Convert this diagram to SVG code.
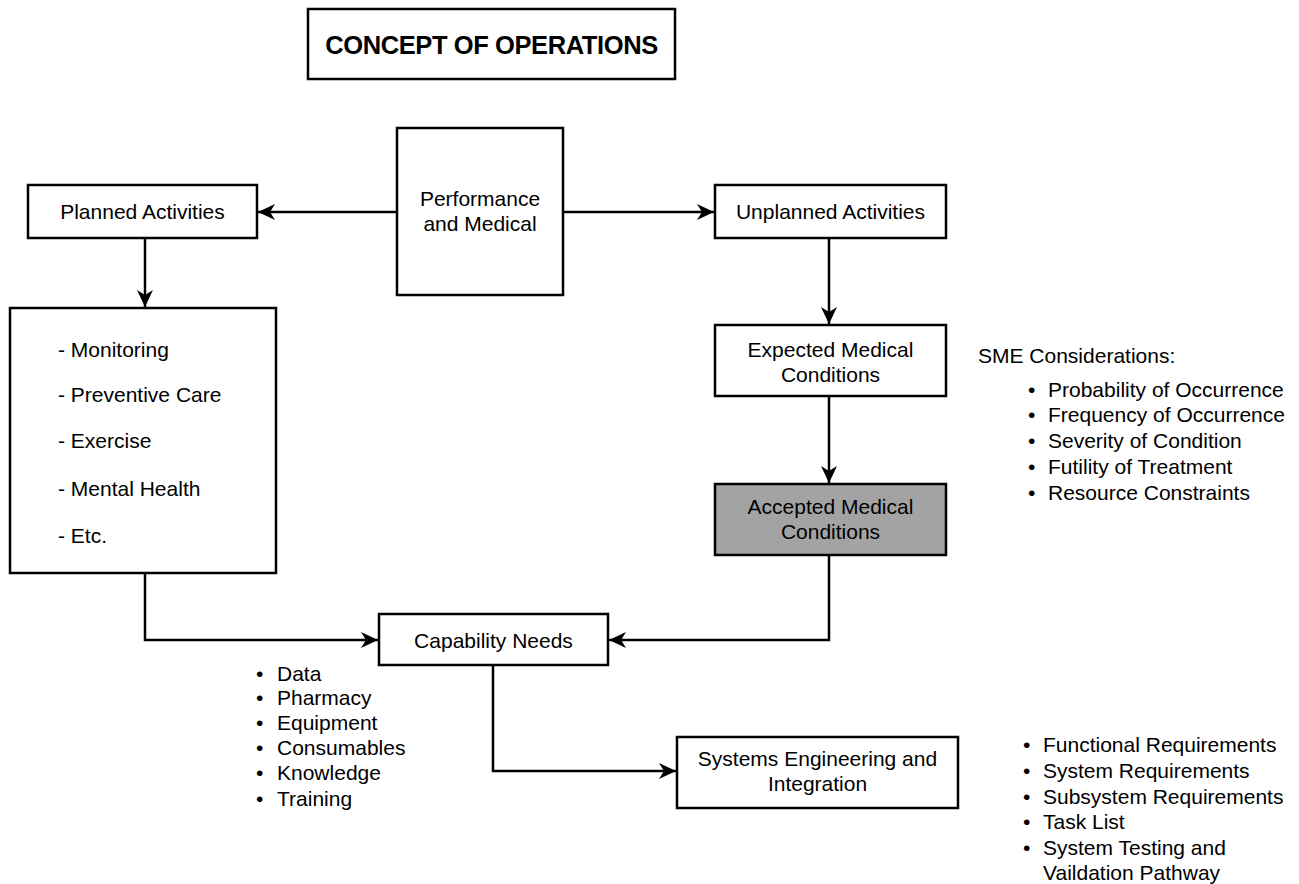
<svg xmlns="http://www.w3.org/2000/svg" width="1299" height="884" viewBox="0 0 1299 884">
<style>
.box{fill:#fff;stroke:#000;stroke-width:2.5}
.gray{fill:#a3a3a3}
.t{font-family:"Liberation Sans",Arial,sans-serif;font-size:21px;fill:#000}
.c{text-anchor:middle}
.title{font-family:"Liberation Sans",Arial,sans-serif;font-size:25.5px;font-weight:bold;letter-spacing:-0.4px;text-anchor:middle}
.ln{fill:none;stroke:#000;stroke-width:2.5}
</style>
<defs>
<marker id="ah" markerUnits="userSpaceOnUse" markerWidth="20" markerHeight="20" refX="17" refY="9" orient="auto">
<path d="M0,1 L17,9 L0,17 L5,9 Z" fill="#000"/>
</marker>
</defs>
<rect width="1299" height="884" fill="#fff"/>

<g id="connectors">
<line class="ln" x1="397" y1="212" x2="258" y2="212" marker-end="url(#ah)"/>
<line class="ln" x1="563" y1="212" x2="714" y2="212" marker-end="url(#ah)"/>
<line class="ln" x1="145" y1="238" x2="145" y2="307" marker-end="url(#ah)"/>
<line class="ln" x1="829" y1="238" x2="829" y2="324" marker-end="url(#ah)"/>
<line class="ln" x1="829" y1="396" x2="829" y2="483" marker-end="url(#ah)"/>
<polyline class="ln" points="145,573 145,640 378,640" marker-end="url(#ah)"/>
<polyline class="ln" points="829,555 829,640 609,640" marker-end="url(#ah)"/>
<polyline class="ln" points="493,665 493,771 676,771" marker-end="url(#ah)"/>
</g>

<g id="title">
<rect class="box" x="308" y="9" width="367" height="70"/>
<text class="title" x="491.5" y="54">CONCEPT OF OPERATIONS</text>
</g>

<g id="perf">
<rect class="box" x="397" y="128" width="166" height="167"/>
<text class="t c" x="480" y="206">Performance</text>
<text class="t c" x="480" y="231">and Medical</text>
</g>

<g id="planned">
<rect class="box" x="28" y="185" width="229" height="53"/>
<text class="t c" x="142.5" y="219">Planned Activities</text>
</g>

<g id="unplanned">
<rect class="box" x="715" y="185" width="231" height="53"/>
<text class="t c" x="830.5" y="219">Unplanned Activities</text>
</g>

<g id="planned-list">
<rect class="box" x="10" y="308" width="266" height="265"/>
<text class="t" x="58" y="357">- Monitoring</text>
<text class="t" x="58" y="402">- Preventive Care</text>
<text class="t" x="58" y="448">- Exercise</text>
<text class="t" x="58" y="496">- Mental Health</text>
<text class="t" x="58" y="543">- Etc.</text>
</g>

<g id="expected">
<rect class="box" x="715" y="325" width="231" height="71"/>
<text class="t c" x="830.5" y="357">Expected Medical</text>
<text class="t c" x="830.5" y="382">Conditions</text>
</g>

<g id="accepted">
<rect class="box gray" x="715" y="484" width="231" height="71"/>
<text class="t c" x="830.5" y="514">Accepted Medical</text>
<text class="t c" x="830.5" y="539">Conditions</text>
</g>

<g id="capability">
<rect class="box" x="379" y="614" width="229" height="51"/>
<text class="t c" x="493.5" y="648">Capability Needs</text>
</g>

<g id="sei">
<rect class="box" x="677" y="737" width="281" height="71"/>
<text class="t c" x="817.5" y="766">Systems Engineering and</text>
<text class="t c" x="817.5" y="791">Integration</text>
</g>

<g id="sme">
<text class="t" x="978" y="363">SME Considerations:</text>
<g class="t">
<text x="1028" y="397">•</text><text x="1048" y="397">Probability of Occurrence</text>
<text x="1028" y="422">•</text><text x="1048" y="422">Frequency of Occurrence</text>
<text x="1028" y="448">•</text><text x="1048" y="448">Severity of Condition</text>
<text x="1028" y="474">•</text><text x="1048" y="474">Futility of Treatment</text>
<text x="1028" y="500">•</text><text x="1048" y="500">Resource Constraints</text>
</g>
</g>

<g id="capability-list" class="t">
<text x="256" y="681">•</text><text x="277" y="681">Data</text>
<text x="256" y="705">•</text><text x="277" y="705">Pharmacy</text>
<text x="256" y="730">•</text><text x="277" y="730">Equipment</text>
<text x="256" y="755">•</text><text x="277" y="755">Consumables</text>
<text x="256" y="780">•</text><text x="277" y="780">Knowledge</text>
<text x="256" y="806">•</text><text x="277" y="806">Training</text>
</g>

<g id="sei-list" class="t">
<text x="1023" y="752">•</text><text x="1043" y="752">Functional Requirements</text>
<text x="1023" y="778">•</text><text x="1043" y="778">System Requirements</text>
<text x="1023" y="804">•</text><text x="1043" y="804">Subsystem Requirements</text>
<text x="1023" y="829">•</text><text x="1043" y="829">Task List</text>
<text x="1023" y="855">•</text><text x="1043" y="855">System Testing and</text>
<text x="1043" y="880">Vaildation Pathway</text>
</g>
</svg>
